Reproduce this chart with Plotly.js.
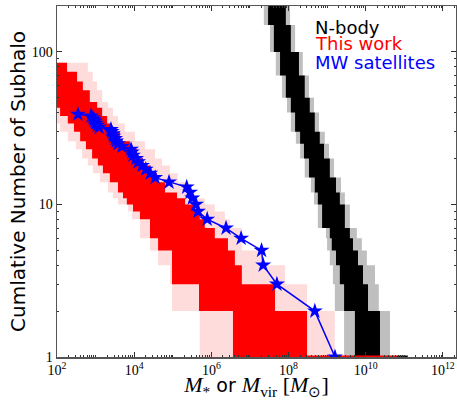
<!DOCTYPE html>
<html><head><meta charset="utf-8">
<script src="https://cdn.plot.ly/plotly-3.0.1.min.js"></script>
<style>html,body{margin:0;padding:0;background:#fff}</style>
</head><body><div id="chart" style="width:457px;height:400px"></div>
<script>
// ---- MW satellites: rank N and mass (M_sun) ----
const mwN = [1,2,3,4,5,6,7,8,9,10,11,12,13,14,15,16,17,18,19,20,21,22,23,24,25,26,27,28,29,30,31,32,33,34,35,36,37,38,39];
const mwMass = [1.6e9,4.8e8,5.0e7,2.2e7,2.0e7,5.9e6,2.4e6,7.8e5,4.5e5,4.0e5,3.2e5,2.8e5,2.3e5,8.0e4,3.5e4,2.6e4,2.0e4,1.6e4,1.26e4,1.12e4,9.3e3,8.7e3,8.3e3,4.8e3,3.8e3,3.4e3,3.2e3,2.9e3,2.8e3,2.6e3,2.5e3,1.23e3,1.1e3,1.02e3,960,910,850,760,350];

// ---- "This work" band: N levels and log10 mass bounds per N-row ----
const thisN = [1,2,3,4,5,6,7,8,9,10,11,12,14,16,18,20,23,26,30,34,38,43,47,56,64,74,85];
const redLogLo  = [6.56,5.68,4.98,4.98,4.62,4.41,4.41,4.15,3.97,3.81,3.71,3.58,3.37,3.19,3.06,2.91,2.75,2.60,2.44,2.28,2.08,1.0,1.0,1.0,1.0,1.0];
const redLogHi  = [8.48,7.65,6.79,6.61,6.43,6.09,5.83,5.70,5.58,5.32,5.11,4.80,4.59,4.41,4.23,4.07,3.89,3.63,3.42,3.30,3.17,3.04,2.85,2.67,2.52,2.26];
const pinkLogLo = [5.70,4.98,4.93,4.62,4.41,4.15,4.15,3.94,3.84,3.58,3.45,3.32,3.11,2.93,2.80,2.65,2.49,2.28,2.08,1.0,1.0,1.0,1.0,1.0,1.0,1.0];
const pinkLogHi = [9.20,8.48,7.91,7.31,6.79,6.79,6.48,6.35,6.09,5.83,5.58,5.37,5.13,4.93,4.72,4.54,4.28,4.02,3.76,3.58,3.45,3.32,3.17,3.04,2.93,2.80];
const redFloorLog = [8.48,10.81];

// ---- N-body band ----
const nbN = [1,2,3,4,5,6,7,10,12,15,20,25,30,40,50,70,100,150,210];
const blackLogLo = [9.72,9.44,9.33,9.23,9.12,9.07,8.87,8.76,8.68,8.53,8.40,8.30,8.17,8.06,7.93,7.78,7.62,7.47];
const blackLogHi = [10.37,10.06,9.93,9.80,9.67,9.59,9.46,9.33,9.23,9.07,8.92,8.81,8.68,8.55,8.42,8.27,8.06,7.93];
const grayLogLo  = [9.44,9.20,9.15,9.07,9.00,8.97,8.76,8.66,8.58,8.42,8.30,8.19,8.06,7.96,7.83,7.67,7.52,7.36];
const grayLogHi  = [10.63,10.34,10.24,10.03,9.90,9.77,9.59,9.46,9.36,9.18,9.05,8.94,8.79,8.66,8.53,8.37,8.17,8.04];
const blackFloorLog = [10.81,11.09];

const xTickVals = [1e2,1e4,1e6,1e8,1e10,1e12];
const xTickText = ['10<sup>2</sup>','10<sup>4</sup>','10<sup>6</sup>','10<sup>8</sup>','10<sup>10</sup>','10<sup>12</sup>'];
const yTickVals = [1,10,100];
const yTickText = ['1','10','100'];

function band(edges, lo, hi, color) {
  const xs = [], ys = [];
  for (let i = 0; i < lo.length; i++) { xs.push(lo[i], lo[i]); ys.push(edges[i], edges[i+1]); }
  for (let i = hi.length - 1; i >= 0; i--) { xs.push(hi[i], hi[i]); ys.push(edges[i+1], edges[i]); }
  return {type:'scatter', mode:'lines', x: xs.map(v => Math.pow(10, v)), y: ys,
    fill:'toself', fillcolor: color, line:{width:0, color: color}, hoverinfo:'skip', showlegend:false};
}

// minor log ticks (2..9 x 10^n)
function minorTicks(lo, hi) {
  const out = [];
  for (let e = lo; e <= hi; e++) for (let d = 1; d <= 9; d++) out.push(d * Math.pow(10, e));
  return out;
}

const traces = [
  band(thisN, pinkLogLo, pinkLogHi, '#ffdcdc'),
  band(thisN, redLogLo, redLogHi, '#ff0000'),
  band(nbN, grayLogLo, grayLogHi, '#bfbfbf'),
  band(nbN, blackLogLo, blackLogHi, '#000000'),
  {type:'scatter', mode:'lines', x: redFloorLog.map(v => Math.pow(10, v)), y:[1,1],
   line:{color:'#ff0000', width:3}, hoverinfo:'skip', showlegend:false},
  {type:'scatter', mode:'lines', x: blackFloorLog.map(v => Math.pow(10, v)), y:[1,1],
   line:{color:'#000000', width:3}, hoverinfo:'skip', showlegend:false},
  {type:'scatter', mode:'lines+markers', x: mwMass, y: mwN, name:'MW satellites',
   line:{color:'#0000ff', width:1.5}, marker:{symbol:'star', size:12, color:'#0000ff'}, showlegend:false}
];

const serif = 'Liberation Serif, DejaVu Serif, serif';
const sans = 'DejaVu Sans, sans-serif';
const ms = '<span style="font-family:Liberation Serif;font-size:22px">';
const layout = {
  width:457, height:400,
  margin:{l:57, r:1, t:6, b:43},
  paper_bgcolor:'#fff', plot_bgcolor:'#fff',
  showlegend:false,
  xaxis:{type:'log', range:[2, 12.34], tickmode:'array', tickvals:xTickVals, ticktext:xTickText,
    ticks:'inside', ticklen:5, tickcolor:'#333', mirror:'allticks', showline:true, linecolor:'#555', linewidth:1.5,
    showgrid:false, zeroline:false, tickfont:{family:serif, size:14, color:'#000'},
    minor:{tickmode:'array', tickvals:minorTicks(2, 12), ticks:'inside', ticklen:2, tickcolor:'#333', showgrid:false},
    title:{text: ms + '<i>M</i><sub>*</sub></span> or ' + ms + '<i>M</i><sub>vir</sub> [<i>M</i><sub>⊙</sub>]</span>',
      font:{family:sans, size:19, color:'#000'}, standoff:8}},
  yaxis:{type:'log', range:[0, 2.301], tickmode:'array', tickvals:yTickVals, ticktext:yTickText,
    ticks:'inside', ticklen:5, tickcolor:'#333', mirror:'allticks', showline:true, linecolor:'#555', linewidth:1.5,
    showgrid:false, zeroline:false, tickfont:{family:serif, size:14, color:'#000'},
    minor:{tickmode:'array', tickvals:minorTicks(0, 2), ticks:'inside', ticklen:2, tickcolor:'#333', showgrid:false},
    title:{text:'Cumlative Number of Subhalo', font:{family:sans, size:20, color:'#000'}, standoff:0}},
  annotations:[
    {xref:'paper', yref:'paper', x:0.645, y:0.940, xanchor:'left', yanchor:'middle', showarrow:false, borderpad:0,
     text:'N-body', font:{family:sans, size:18, color:'#000000'}},
    {xref:'paper', yref:'paper', x:0.645, y:0.893, xanchor:'left', yanchor:'middle', showarrow:false, borderpad:0,
     text:'This work', font:{family:sans, size:18, color:'#ff0000'}},
    {xref:'paper', yref:'paper', x:0.645, y:0.840, xanchor:'left', yanchor:'middle', showarrow:false, borderpad:0,
     text:'MW satellites', font:{family:sans, size:18, color:'#0000ff'}}
  ]
};
Plotly.newPlot('chart', traces, layout, {staticPlot:true, displayModeBar:false});
</script>
</body></html>
